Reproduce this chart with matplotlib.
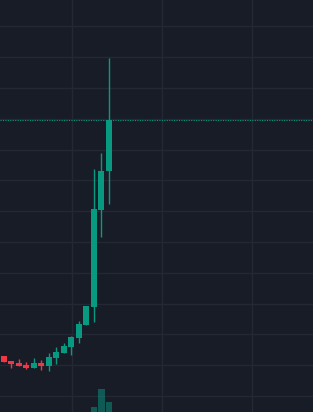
import numpy as np
import matplotlib
matplotlib.use("Agg")
import matplotlib.pyplot as plt

# candle data (one bar per period)
opens  = [2.30, 2.13, 2.07, 2.02, 1.92, 2.07, 1.98, 2.23, 2.40, 2.59, 2.88, 3.31, 3.90, 7.05, 8.31]
highs  = [2.30, 2.14, 2.19, 2.09, 2.23, 2.17, 2.40, 2.59, 2.71, 2.95, 3.43, 3.93, 8.37, 8.88, 11.97]
lows   = [2.10, 1.92, 1.98, 1.88, 1.92, 1.85, 1.82, 2.05, 2.40, 2.34, 2.73, 3.31, 3.41, 6.17, 7.24]
closes = [2.10, 2.05, 1.98, 1.92, 2.07, 1.98, 2.26, 2.43, 2.62, 2.91, 3.34, 3.93, 7.06, 8.31, 9.96]
volume = [1.0, 0.8, 0.6, 0.9, 0.7, 0.5, 1.2, 1.0, 1.3, 1.6, 2.0, 2.5, 52, 240, 105]

bg = '#181c27'
up, down = '#089981', '#f23645'

fig = plt.figure(figsize=(3.13, 4.12), dpi=100, facecolor=bg)
ax = fig.add_axes([0, 0, 1, 1])
ax.set_facecolor(bg)

x = np.arange(len(opens))
for i in x:
    c = up if closes[i] >= opens[i] else down
    ax.vlines(i, lows[i], highs[i], color=c, lw=1, zorder=3)
    lo, hi = min(opens[i], closes[i]), max(opens[i], closes[i])
    ax.bar(i, hi - lo, bottom=lo, width=0.8, color=c, lw=0, zorder=4)

# last price line
ax.axhline(closes[-1], color=up, lw=0.8, linestyle=(0, (1, 1.2)), zorder=2)

ax.set_xlim(-0.533, 41.2)
ax.set_ylim(0.48, 13.86)
ax.set_yticks(range(1, 14))
ax.set_xticks([9.13, 21.13, 33.13])
ax.grid(True, color='#242835', lw=1, zorder=0)
ax.tick_params(length=0, labelbottom=False, labelleft=False)
for s in ax.spines.values():
    s.set_visible(False)

# volume overlay (sits above the grid)
vax = ax.twinx()
vcol = [up if closes[i] >= opens[i] else down for i in x]
vax.bar(x, volume, width=0.93, color=vcol, alpha=0.5, lw=0, zorder=1)
vax.set_ylim(0, max(volume) * 412 / 23)
vax.axis('off')

fig.savefig('out.png', dpi=100, facecolor=bg)
